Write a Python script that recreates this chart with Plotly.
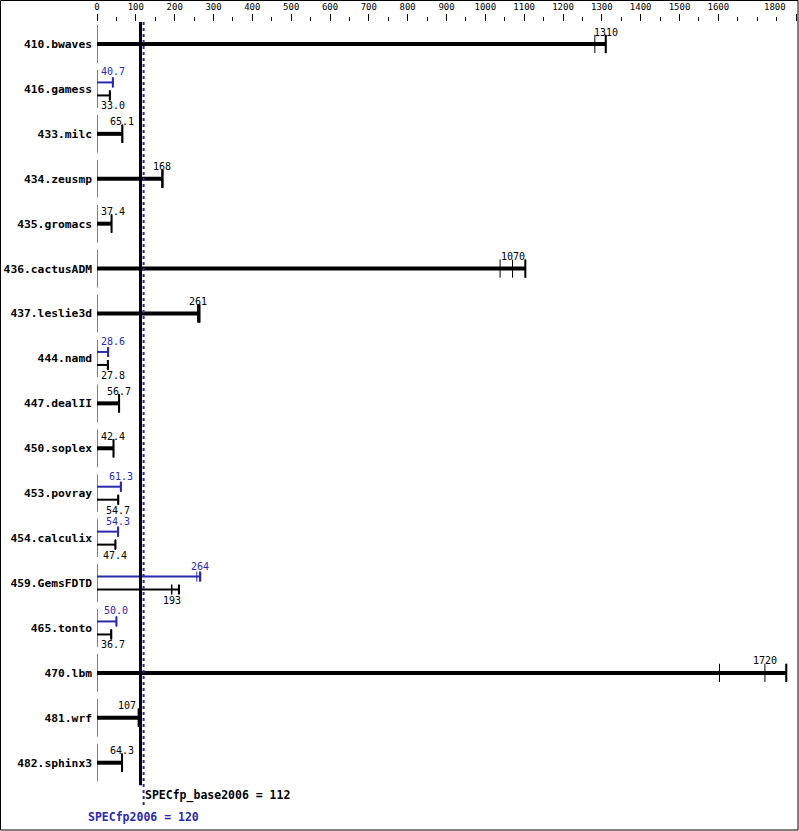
import plotly.graph_objects as go

benchmarks = ['410.bwaves', '416.gamess', '433.milc', '434.zeusmp', '435.gromacs',
              '436.cactusADM', '437.leslie3d', '444.namd', '447.dealII', '450.soplex',
              '453.povray', '454.calculix', '459.GemsFDTD', '465.tonto', '470.lbm',
              '481.wrf', '482.sphinx3']
# base runs (3 per benchmark), median is the reported ratio
base_runs = [[1282, 1310, 1310], [32.9, 33.0, 33.1], [64.9, 65.1, 65.4], [167, 168, 169],
             [37.3, 37.4, 37.5], [1038, 1070, 1103], [259, 261, 264], [27.7, 27.8, 27.9],
             [56.5, 56.7, 56.9], [42.2, 42.4, 42.6], [54.6, 54.7, 54.8], [47.3, 47.4, 47.5],
             [192, 193, 211], [36.6, 36.7, 36.8], [1603, 1720, 1775], [106, 107, 108],
             [64.1, 64.3, 64.5]]
base_labels = ['1310', '33.0', '65.1', '168', '37.4', '1070', '261', '27.8', '56.7', '42.4',
               '54.7', '47.4', '193', '36.7', '1720', '107', '64.3']
# peak runs, None where peak == base
peak_runs = [None, [40.6, 40.7, 40.8], None, None, None, None, None, [28.5, 28.6, 28.7],
             None, None, [61.2, 61.3, 61.4], [54.2, 54.3, 54.4], [257, 264, 266],
             [49.9, 50.0, 50.1], None, None, None]
peak_labels = [None, '40.7', None, None, None, None, None, '28.6', None, None, '61.3',
               '54.3', '264', '50.0', None, None, None]
spec_base = 112
spec_peak = 120
tick_vals = [0, 100, 200, 300, 400, 500, 600, 700, 800, 900, 1000, 1100, 1200, 1300,
             1400, 1500, 1600, 1800]

BLUE = '#2a2aad'
MONO = 'DejaVu Sans Mono'
PX_PER_ROW = 44.91
PX_PER_UNIT = 699 / 1800

fig = go.Figure()
annotations = []


def median(v):
    return sorted(v)[len(v) // 2]


def draw(row, runs, label, color, width, off, label_off, tick_size):
    fig.add_trace(go.Scatter(x=[0, max(runs)], y=[row + off] * 2, mode='lines',
                             line=dict(color=color, width=width), hoverinfo='skip'))
    fig.add_trace(go.Scatter(x=runs, y=[row + off] * len(runs), mode='markers',
                             marker=dict(symbol='line-ns', size=tick_size,
                                         line=dict(color=color, width=1)),
                             hoverinfo='skip'))
    fig.add_trace(go.Scatter(x=[max(runs)], y=[row + off], mode='markers',
                             marker=dict(symbol='line-ns', size=tick_size,
                                         line=dict(color=color, width=2)),
                             hoverinfo='skip'))
    m = median(runs)
    half = len(label) * 3
    lo = m * PX_PER_UNIT - half
    hi = m * PX_PER_UNIT + half
    if lo < 3:
        ann = dict(x=0, xanchor='left', xshift=2)
    elif lo < spec_peak * PX_PER_UNIT + 2 and hi > spec_base * PX_PER_UNIT - 2:
        # keep clear of the summary lines
        ann = dict(x=max(runs), xanchor='right', xshift=-1)
    else:
        ann = dict(x=m, xanchor='center')
    ann.update(y=row + label_off, yanchor='middle', text=label, showarrow=False,
               font=dict(family=MONO, size=10, color=color))
    annotations.append(ann)


for i, name in enumerate(benchmarks):
    # row start tick
    fig.add_trace(go.Scatter(x=[0], y=[i], mode='markers',
                             marker=dict(symbol='line-ns', size=27,
                                         line=dict(color='black', width=1)),
                             hoverinfo='skip'))
    if peak_runs[i] is None:
        draw(i, base_runs[i], base_labels[i], 'black', 4, 0, -12 / PX_PER_ROW, 13)
    else:
        draw(i, peak_runs[i], peak_labels[i], BLUE, 2, -6.5 / PX_PER_ROW,
             -17 / PX_PER_ROW, 7)
        draw(i, base_runs[i], base_labels[i], 'black', 2, 6.5 / PX_PER_ROW,
             17 / PX_PER_ROW, 7)

last = len(benchmarks) - 1
ytop = -22 / PX_PER_ROW
shapes = [
    dict(type='line', xref='x', yref='y', x0=spec_base, x1=spec_base, y0=ytop,
         y1=last + 0.5, line=dict(color='black', width=3)),
    dict(type='line', xref='x', yref='y', x0=spec_peak, x1=spec_peak, y0=ytop,
         y1=last + 1.0, line=dict(color=BLUE, width=2, dash='dot')),
    dict(type='rect', xref='paper', yref='paper', x0=-96.5 / 699, x1=(798 - 97) / 699,
         y0=1 - 808 / 809, y1=1 + 21.5 / 809, line=dict(color='black', width=1)),
]
annotations.append(dict(x=spec_base, y=last + 0.72, xanchor='left', xshift=3,
                        text=f'<b>SPECfp_base2006 = {spec_base}</b>', showarrow=False,
                        font=dict(family=MONO, size=11.5, color='black')))
annotations.append(dict(x=spec_peak, y=last + 1.2, xanchor='center',
                        text=f'<b>SPECfp2006 = {spec_peak}</b>', showarrow=False,
                        font=dict(family=MONO, size=11.5, color=BLUE)))

# last tick label sits left of its tick, as in the original
tick_text = [str(v) for v in tick_vals]
tick_text[-1] = ''
annotations.append(dict(x=tick_vals[-1], xref='x', y=1, yref='paper', yshift=15,
                        xanchor='right', xshift=-8, yanchor='middle',
                        text=str(tick_vals[-1]), showarrow=False,
                        font=dict(family=MONO, size=9, color='black')))

fig.update_layout(
    width=799, height=831, margin=dict(l=97, r=3, t=22, b=0),
    paper_bgcolor='white', plot_bgcolor='white', showlegend=False,
    shapes=shapes, annotations=annotations, hovermode=False,
    xaxis=dict(range=[0, 1800.01], side='top', tickvals=tick_vals,
               ticktext=tick_text, ticks='outside', ticklen=7, automargin=False,
               tickcolor='black', tickwidth=1,
               minor=dict(dtick=50, ticks='outside', ticklen=4, tickcolor='black'),
               tickfont=dict(family=MONO, size=9, color='black'),
               showgrid=False, zeroline=False, showline=False),
    yaxis=dict(range=[17.52, ytop], tickvals=list(range(len(benchmarks))),
               ticktext=[f'<b>{b}</b>' for b in benchmarks], ticks='',
               ticklabelstandoff=4, automargin=False,
               tickfont=dict(family=MONO, size=11.3, color='black'),
               showgrid=False, zeroline=False, showline=False),
)
fig.write_html("out.html", config={'displayModeBar': False},
               post_script="document.body.style.margin='0';document.body.style.overflow='hidden';")
